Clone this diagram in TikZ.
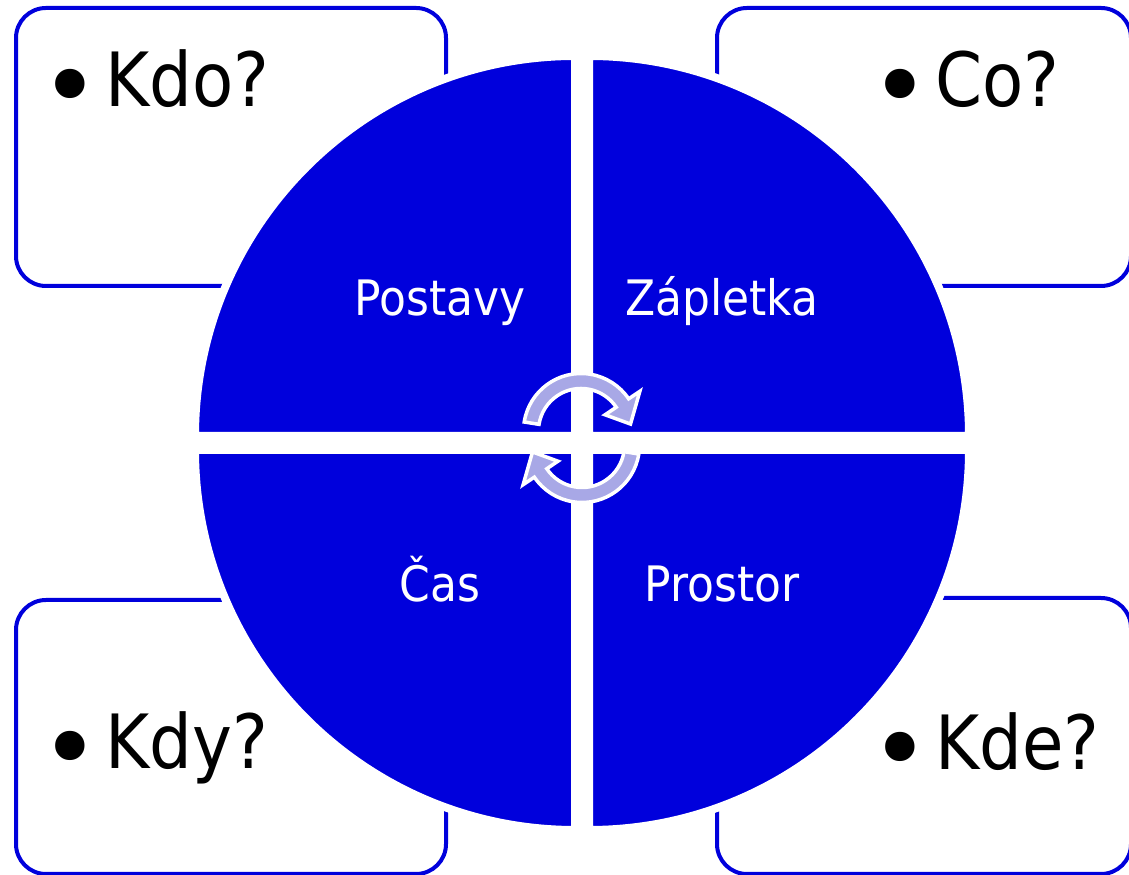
\documentclass[tikz,border=0pt]{standalone}
\usepackage{fontspec}
\setmainfont{DejaVu Sans}[FakeStretch=0.9]
\usepackage{tikz}
\usetikzlibrary{positioning}
\definecolor{discblue}{RGB}{0,0,220}
\definecolor{lavender}{RGB}{168,168,230}

\newcommand{\qbullet}{\raisebox{-0.2em}{\scalebox{1.5}[1.35]{•}}\kern0.07em}

\tikzset{
  quarter/.style={fill=discblue, draw=white, line width=0.08cm},
  qbox/.style={draw=discblue, line width=0.04cm, rounded corners=0.3cm},
  question/.style={inner sep=0pt, anchor=base west, font=\fontsize{21.3}{26}\selectfont},
  part/.style={inner sep=0pt, anchor=base, text=white, font=\fontsize{13.9}{17}\selectfont},
  cyclearrow/.style={fill=lavender, draw=white, line width=0.035cm, line join=miter}
}

\begin{document}
\begin{tikzpicture}
        \useasboundingbox (0,0) rectangle (11.29,8.75);

        % question boxes
        \draw[qbox] (0.16,5.89) rectangle (4.46,8.67);
        \draw[qbox] (7.17,5.89) rectangle (11.31,8.67);
        \draw[qbox] (0.16,0.01) rectangle (4.46,2.75);
        \draw[qbox] (7.17,0.01) rectangle (11.31,2.77);

        \node[question] (kdo) at (0.40,7.68) {\qbullet Kdo?};
        \node[question] (co)  at (8.70,7.68) {\qbullet Co?};
        \node[question] (kdy) at (0.40,1.06) {\qbullet Kdy?};
        \node[question] (kde) at (8.70,1.05) {\qbullet Kde?};

        % disc in four parts
        \filldraw[quarter] (5.75,4.39) -- ++(-3.80,0) arc (180:90:3.80) -- cycle;
        \filldraw[quarter] (5.89,4.39) -- ++(0,3.80) arc (90:0:3.80) -- cycle;
        \filldraw[quarter] (5.75,4.25) -- ++(0,-3.80) arc (270:180:3.80) -- cycle;
        \filldraw[quarter] (5.89,4.25) -- ++(3.80,0) arc (0:-90:3.80) -- cycle;

        \node[part] (postavy)  at (4.40,5.59) {Postavy};
        \node[part] (zapletka) at (7.22,5.59) {Zápletka};
        \node[part] (cas)      at (4.40,2.73) {Čas};
        \node[part] (prostor)  at (7.22,2.73) {Prostor};

        % cycle arrows
        \begin{scope}[shift={(5.81,4.44)}]
          \filldraw[cyclearrow] (171:0.575) arc (171:34:0.575) -- (34:0.71) -- (8:0.50)
            -- (34:0.29) -- (34:0.425) arc (34:171:0.425) -- cycle;
        \end{scope}
        \begin{scope}[shift={(5.82,4.30)}, rotate=180]
          \filldraw[cyclearrow] (171:0.575) arc (171:34:0.575) -- (34:0.71) -- (8:0.50)
            -- (34:0.29) -- (34:0.425) arc (34:171:0.425) -- cycle;
        \end{scope}

      \end{tikzpicture}
\end{document}
